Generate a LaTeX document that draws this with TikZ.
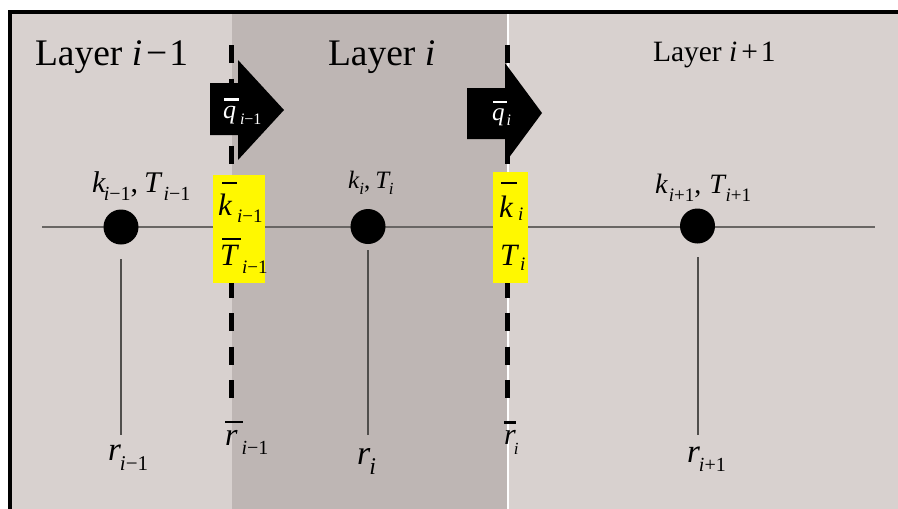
\documentclass[tikz,border=0pt]{standalone}
\usepackage{fontspec}
\setmainfont{Liberation Serif}
\definecolor{lightbg}{RGB}{216,209,207}
\definecolor{midbg}{RGB}{190,182,180}
\definecolor{linegray}{RGB}{105,102,100}
\definecolor{vgray}{RGB}{80,78,76}
\definecolor{ylw}{RGB}{255,248,0}
% #1 base size, #2 base text, #3 kern, #4 sub size, #5 drop, #6 sub text
\newcommand{\Vs}[6]{{\fontsize{#1}{#1}\selectfont #2}\kern#3\raisebox{-#5}{\fontsize{#4}{#4}\selectfont #6}}
% #1 content, #2 gap, #3 shift, #4 extra width
\newcommand{\Ob}[4]{\setbox0\hbox{#1}\vbox{\offinterlineskip\hbox{\kern#3\rule{\dimexpr\wd0+#4\relax}{2.4pt}}\kern#2\box0}}
\tikzset{
  lbl/.style={inner sep=0pt, outer sep=0pt, anchor=base west},
  bnd/.style={line width=5pt, dash pattern=on 18pt off 15.5pt, black},
  dot/.style={circle, fill=black, minimum size=35pt, inner sep=0pt},
  ybox/.style={fill=ylw, draw=none, inner sep=0pt},
  hline/.style={line width=2pt, linegray},
  vline/.style={line width=1.3pt, vgray},
  blockarrow/.style={fill=black, draw=none}
}
\begin{document}
\begin{tikzpicture}[x=1pt,y=-1pt]
\useasboundingbox (0,0) rectangle (898,509);
\fill[white] (0,0) rectangle (898,509);
% layers
\fill[lightbg] (12,14) rectangle (898,509);
\fill[midbg] (232,14) rectangle (507,509);
\draw[white, line width=2pt] (508,14) -- (508,509);
% frame
\draw[line width=4pt, black] (10,509) -- (10,12) -- (898,12);
% axis line
\coordinate (hl) at (42,227);
\coordinate (hr) at (875,227);
\draw[hline] (hl) -- (hr);
% vertical lines
\coordinate (v1a) at (121,259); \coordinate (v1b) at (121,435);
\coordinate (v2a) at (368,250); \coordinate (v2b) at (368,435);
\coordinate (v3a) at (698,257); \coordinate (v3b) at (698,435);
\draw[vline] (v1a) -- (v1b);
\draw[vline] (v2a) -- (v2b);
\draw[vline] (v3a) -- (v3b);
% boundaries
\coordinate (b1a) at (231.5,45); \coordinate (b1b) at (231.5,398);
\coordinate (b2a) at (507.5,45); \coordinate (b2b) at (507.5,398);
\draw[bnd] (b1a) -- (b1b);
\draw[bnd] (b2a) -- (b2b);
% yellow boxes
\path[ybox] (213,175) rectangle (265,283);
\path[ybox] (493,172) rectangle (528,283);
% block arrows
\path[blockarrow] (210,83) -- (238,83) -- (238,60) -- (284,110) -- (238,160) -- (238,135) -- (210,135) -- cycle;
\path[blockarrow] (467,88) -- (505,88) -- (505,63) -- (542,113) -- (505,163) -- (505,139) -- (467,139) -- cycle;
% nodes (circles)
\node[dot] (c1) at (121,227) {};
\node[dot] (c2) at (368,226.5) {};
\node[dot] (c3) at (697.5,226) {};
% layer titles
\node[lbl, font=\fontsize{37.5pt}{37.5pt}\selectfont] (L1) at (35,65) {Layer \textit{i}\kern4pt−\kern2pt1};
\node[lbl, font=\fontsize{37.5pt}{37.5pt}\selectfont] (L2) at (328,65) {Layer \textit{i}};
\node[lbl, font=\fontsize{29.5pt}{29.5pt}\selectfont] (L3) at (653,61) {Layer \textit{i}\kern4pt+\kern3pt1};
% k,T labels
\node[lbl] (kt1) at (92,192) {\Vs{30pt}{\textit{k}}{-2pt}{20pt}{8pt}{\textit{i}−1}{\fontsize{30pt}{30pt}\selectfont,\kern6pt}\Vs{30pt}{\textit{T}}{1pt}{20pt}{8pt}{\textit{i}−1}};
\node[lbl] (kt2) at (348,188) {\Vs{25pt}{\textit{k}}{0pt}{17pt}{6pt}{\textit{i}}{\fontsize{25pt}{25pt}\selectfont,\kern5pt}\Vs{25pt}{\textit{T}}{-2pt}{17pt}{6pt}{\textit{i}}};
\node[lbl] (kt3) at (655,193) {\Vs{28pt}{\textit{k}}{1pt}{19pt}{8pt}{\textit{i}+1}{\fontsize{28pt}{28pt}\selectfont,\kern8pt}\Vs{28pt}{\textit{T}}{-1pt}{19pt}{8pt}{\textit{i}+1}};
% interface labels in yellow boxes
\node[lbl] (yk1) at (218,215) {\Vs{31pt}{\Ob{\textit{k}}{9.5pt}{4pt}{1pt}}{0pt}{19pt}{7pt}{\textit{i}−1}};
\node[lbl] (yT1) at (220,265) {\Vs{31pt}{\Ob{\textit{T}}{4.5pt}{2pt}{0pt}}{1pt}{19pt}{8pt}{\textit{i}−1}};
\node[lbl] (yk2) at (499,217) {\Vs{31pt}{\Ob{\textit{k}}{11pt}{2pt}{2pt}}{1pt}{19pt}{3pt}{\textit{i}}};
\node[lbl] (yT2) at (500,265) {\Vs{31pt}{\textit{T}}{1pt}{19pt}{5pt}{\textit{i}}};
% fluxes
\node[lbl, text=white] (q1) at (223,118) {\Vs{26pt}{\Ob{\textit{q}}{5pt}{1pt}{2pt}}{1pt}{16pt}{6pt}{\textit{i}−1}};
\node[lbl, text=white] (q2) at (492,120) {\Vs{25pt}{\Ob{\textit{q}}{5pt}{1pt}{1pt}}{0pt}{16pt}{5pt}{\textit{i}}};
% radii
\node[lbl] (r1) at (108,460) {\Vs{33pt}{\textit{r}}{-1pt}{21pt}{10pt}{\textit{i}−1}};
\node[lbl] (rb1) at (225,445) {\Vs{32pt}{\Ob{\textit{r}}{6.5pt}{0pt}{5pt}}{-1pt}{20pt}{9pt}{\textit{i}−1}};
\node[lbl] (r2) at (357,464) {\Vs{34pt}{\textit{r}}{-1pt}{24pt}{10pt}{\textit{i}}};
\node[lbl] (rb2) at (504,444) {\Vs{30pt}{\Ob{\textit{r}}{6pt}{0pt}{0pt}}{-2pt}{17pt}{10pt}{\textit{i}}};
\node[lbl] (r3) at (687,462) {\Vs{33pt}{\textit{r}}{-1pt}{20pt}{9pt}{\textit{i}+1}};
\end{tikzpicture}
\end{document}
